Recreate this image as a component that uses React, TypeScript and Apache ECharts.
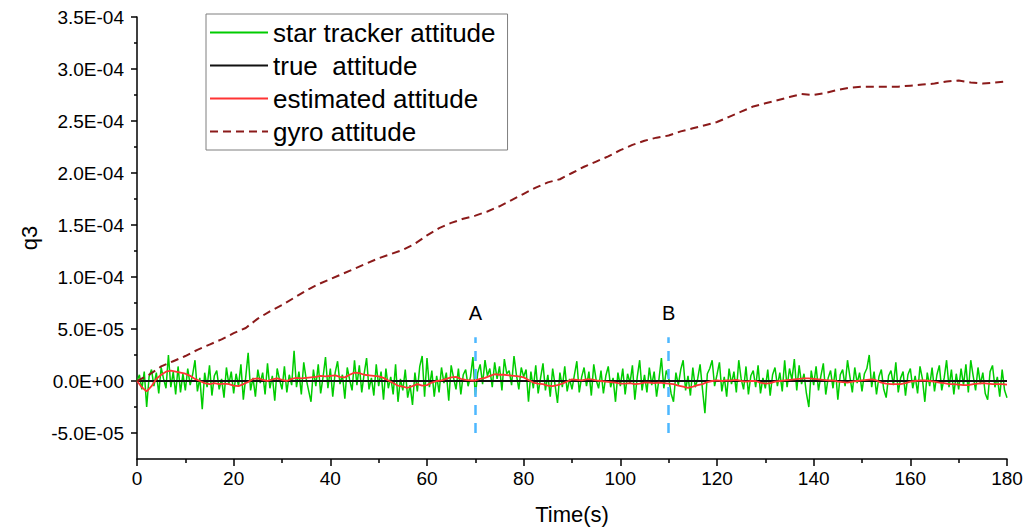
import React, { useEffect, useRef } from "react";
import * as echarts from "echarts";

// values in units of 1e-5
const SCALE = 1e-5;

// star tracker attitude, sampled every 0.5 s from t = 0 to 180 s
const STAR_STEP = 0.5;
const starTracker = [
  0, 0.6, -0.8, 0.9, -2.5, 0.4, 1.1, -0.5, 0.8, -1.2, 1.3, 0.2, -0.7, 2.5, -0.6, 0.9, -1.3, 1.4, -1.1, 0.7,
  -0.9, 1.2, -0.4, 0.6, 2.0, -1.0, 0.3, -2.7, 0.8, -0.6, 1.5, -1.4, 0.5, 1.0, -0.8, 0.2, -1.6, 1.3, -0.3, 0.9,
  -1.2, 0.7, -0.5, 1.6, -1.8, 0.4, 2.7, -0.9, 0.3, -1.5, 1.1, -0.2, 0.8, -1.3, 1.7, -0.7, 0.5, -1.9, 1.2, 0.1,
  -0.8, 1.4, -1.1, 0.6, -0.4, 2.9, -0.6, 0.9, -1.3, 1.8, 0.2, -0.9, -2.0, 1.1, -0.5, 1.6, -1.2, 0.4, 2.3, -0.7,
  1.2, -1.5, 0.8, 1.9, -0.3, 0.6, -1.7, 1.3, 0.1, -0.9, 2.0, -0.4, 1.5, -1.1, 0.7, 2.2, -0.8, 0.3, -1.4, 1.6,
  -0.5, 0.9, -1.8, 1.2, -0.7, 0.4, -1.3, 1.6, -2.0, 0.2, -0.9, 1.1, -1.6, -0.4, -2.3, 0.8, -1.0, 1.4, 2.4, -1.5,
  2.2, -0.6, 1.0, -1.5, 0.5, -1.1, 1.3, -0.2, 0.8, -1.9, 1.5, 0.3, -0.8, 1.2, -1.3, 0.6, 1.1, -0.5, 0.4, 2.3,
  -1.4, 0.8, 1.6, -0.3, 2.0, 0.5, 1.2, -0.6, 1.8, 0.2, 1.4, -0.9, 2.1, 0.7, 1.0, -0.4, 2.4, 0.6, -0.8, 1.3,
  0.4, 1.1, -2.0, 0.9, -0.7, 1.5, -1.2, 0.3, 1.7, -0.9, 0.6, -1.5, 1.2, -0.4, -2.1, 0.8, -0.6, 1.4, -1.0, 0.2,
  -0.8, 0.6, 1.9, -1.1, 0.4, 1.3, -0.5, 0.9, -1.4, 1.6, 0.1, -0.7, 1.0, -1.2, 0.5, 1.4, -0.6, 0.3, -2.0, 0.8,
  -0.5, 1.2, -1.3, 0.7, -0.2, 1.5, -1.8, 0.4, 2.0, -0.9, 0.6, -1.1, 1.3, -0.4, 0.9, -1.5, 0.2, 2.2, -0.7, 1.0,
  0.3, -1.2, -2.0, 0.8, -0.4, 1.1, 2.0, -0.9, 0.5, -1.4, 1.3, -0.6, 0.2, 1.6, -0.8, -3.1, 0.7, 1.2, 2.0, -0.5,
  0.6, 1.8, -1.0, 0.4, -1.5, 1.2, -0.3, 0.9, -1.1, 2.0, 0.2, -0.8, 1.4, -1.3, 0.5, 1.0, -0.6, 1.5, -1.2, 0.3,
  -0.7, 1.1, -1.4, 0.6, 1.3, -0.5, 0.8, -1.0, 2.0, -0.6, 1.2, 0.1, 2.1, -0.9, 1.5, -0.3, 0.7, -1.2, -2.5, 1.0,
  -0.4, 1.4, -0.9, 0.5, 1.7, -1.3, 0.3, 1.0, -0.7, 1.2, -1.8, 0.6, 1.1, -0.5, 2.0, 0.4, -1.1, 1.3, -0.2, 0.8,
  -1.0, 0.7, 1.2, 2.5, -0.6, 0.9, -1.3, 0.4, 1.1, -0.8, -1.6, 0.5, 1.0, -0.4, 1.8, -1.1, 0.3, 0.9, -1.4, 0.6,
  1.2, -0.7, 0.5, -1.2, 1.4, 0.2, -2.0, 0.8, -0.5, 1.3, -1.0, 0.6, 1.5, -0.9, 0.3, 2.0, -0.6, 1.1, -1.3, 0.7,
  -0.8, 1.2, -0.4, 1.6, -1.1, 2.0, 0.5, -0.9, 1.3, -0.3, 0.8, -1.2, -1.8, 0.9, 1.5, -0.6, 0.4, -1.5, 1.1, -0.9,
  -1.6,
];

// estimated attitude, sampled every 1 s
const EST_STEP = 1;
const estimated = [
  0, -0.6, -1.0, -0.5, 0.2, 0.6, 0.9, 1.0, 0.9, 0.8,
  0.7, 0.5, 0.2, 0, -0.2, -0.3, -0.2, -0.3, -0.25, -0.3,
  -0.45, -0.5, -0.3, -0.1, 0.2, 0.25, 0.1, 0, 0.15, 0.25,
  0.1, 0, 0.2, 0.3, 0.25, 0.3, 0.35, 0.4, 0.5, 0.45,
  0.5, 0.55, 0.4, 0.35, 0.6, 0.8, 0.75, 0.6, 0.55, 0.5,
  0.45, 0.3, 0.05, -0.2, -0.45, -0.55, -0.65, -0.5, -0.3, -0.45,
  -0.4, -0.15, 0, 0.05, 0.2, 0.35, 0.4, 0.2, 0.1, 0.05,
  0.05, 0.2, 0.3, 0.5, 0.65, 0.6, 0.6, 0.55, 0.5, 0.45,
  0.35, 0.1, -0.15, -0.25, -0.3, -0.45, -0.5, -0.4, -0.25, -0.05,
  0.15, 0.1, 0.05, 0.15, 0.15, 0.05, 0, -0.05, -0.1, -0.15,
  -0.25, -0.25, -0.2, -0.3, -0.25, -0.15, -0.15, -0.2, -0.15, -0.2,
  -0.25, -0.3, -0.45, -0.55, -0.65, -0.55, -0.4, -0.3, -0.1, 0,
  0.05, 0, 0.05, 0.05, 0.1, 0, -0.05, 0, 0, -0.15,
  -0.25, -0.2, -0.05, 0, 0.05, 0.1, 0.15, 0.2, 0.25, 0.25,
  0.2, 0.15, 0.1, 0.05, 0.05, -0.05, -0.1, -0.15, -0.05, 0,
  0.05, 0.1, 0.15, 0.05, -0.15, -0.25, -0.3, -0.3, -0.3, -0.2,
  -0.05, 0, 0.05, 0.05, 0, -0.05, -0.15, -0.2, -0.3, -0.3,
  -0.35, -0.4, -0.4, -0.3, -0.25, -0.2, -0.25, -0.3, -0.3, -0.3,
  -0.35,
];

// gyro attitude
const gyroTime = [
  0, 2.5, 5, 7.5, 10, 12.5, 15, 17.5, 20, 22.5, 25, 27.5, 30, 32.5, 35, 37.5, 40, 42.5, 45, 47.5,
  50, 52.5, 55, 57.5, 60, 62.5, 65, 67.5, 70, 72.5, 75, 77.5, 80, 82.5, 85, 87.5, 90, 92.5, 95, 97.5,
  100, 102.5, 105, 107.5, 110, 112.5, 115, 117.5, 120, 122.5, 125, 127.5, 130, 132.5, 135, 137.5, 140,
  142.5, 145, 147.5, 150, 152.5, 155, 157.5, 160, 162.5, 165, 167.5, 170, 172.5, 175, 177.5, 180,
];
const gyroValue = [
  0, 0.6, 1.4, 1.9, 2.4, 3.0, 3.5, 4.0, 4.6, 5.1, 6.0, 6.7, 7.3, 8.0, 8.7, 9.3, 9.8, 10.3, 10.8, 11.3,
  11.8, 12.2, 12.6, 13.2, 14.0, 14.7, 15.2, 15.6, 15.9, 16.3, 16.8, 17.4, 18.0, 18.6, 19.1, 19.4, 20.0, 20.6, 21.1, 21.6,
  22.2, 22.7, 23.1, 23.4, 23.6, 24.0, 24.3, 24.6, 24.9, 25.4, 25.9, 26.4, 26.7, 27.0, 27.3, 27.6, 27.5,
  27.7, 28.0, 28.2, 28.3, 28.3, 28.3, 28.3, 28.4, 28.5, 28.6, 28.8, 28.9, 28.7, 28.6, 28.7, 28.8,
];

// true attitude
const trueTime = [0, 180];
const trueValue = [0, 0];

// markers A and B
const markerTimes = [70, 110];
const markerLabels = ["A", "B"];
const markerRange = [-5, 4.2];

// axis ticks (units 1e-5)
const yMajorTicks = [-5, 0, 5, 10, 15, 20, 25, 30, 35];
const yMinorTicks = [-2.5, 2.5, 7.5, 12.5, 17.5, 22.5, 27.5, 32.5];
const xTicks = [0, 20, 40, 60, 80, 100, 120, 140, 160, 180];

const FONT = "'Liberation Sans', Arial, sans-serif";

function fmtSci(v: number): string {
  const s = v.toExponential(1);
  const [m, e] = s.split("e");
  const sign = e[0];
  const d = e.slice(1).padStart(2, "0");
  return m + "E" + sign + d;
}

export default function App() {
  const ref = useRef<HTMLDivElement>(null);

  useEffect(() => {
    if (!ref.current) return;
    const chart = echarts.init(ref.current, null, { renderer: "svg" });
    const black = "#000";
    const option: any = {
      animation: false,
      backgroundColor: "#fff",
      textStyle: { fontFamily: FONT },
      grid: { left: 137, right: 20, top: 17, bottom: 73, containLabel: false },
      legend: {
        data: ["star tracker attitude", "true  attitude", "estimated attitude", "gyro attitude"],
        orient: "vertical",
        left: 206,
        top: 14,
        padding: [5, 12, 5, 3],
        itemGap: 6,
        itemWidth: 58,
        itemHeight: 14,
        itemStyle: { opacity: 0 },
        backgroundColor: "#fff",
        borderColor: "#7f7f7f",
        borderWidth: 1,
        textStyle: { fontSize: 26, lineHeight: 27, color: black, fontFamily: FONT },
      },
      xAxis: {
        type: "value",
        min: xTicks[0],
        max: xTicks[xTicks.length - 1],
        interval: 20,
        name: "Time(s)",
        nameLocation: "middle",
        nameGap: 44,
        nameTextStyle: { fontSize: 22, color: black, fontFamily: FONT },
        axisLine: { onZero: false, lineStyle: { color: black, width: 1.5 } },
        axisTick: { length: 7, lineStyle: { color: black, width: 1.5 } },
        minorTick: { show: true, splitNumber: 2, length: 4, lineStyle: { color: black, width: 1.5 } },
        axisLabel: { fontSize: 19, color: black, margin: 10, fontFamily: FONT },
        splitLine: { show: false },
        minorSplitLine: { show: false },
      },
      yAxis: [
        {
          type: "value",
          min: -7.5 * SCALE,
          max: 35 * SCALE,
          name: "q3",
          nameLocation: "middle",
          nameGap: 95,
          nameTextStyle: { fontSize: 22, color: black, fontFamily: FONT },
          axisLine: { show: true, onZero: false, lineStyle: { color: black, width: 1.5 } },
          axisTick: {
            show: true,
            length: 6,
            customValues: yMajorTicks.map((v) => v * SCALE),
            lineStyle: { color: black, width: 1.5 },
          },
          axisLabel: {
            customValues: yMajorTicks.map((v) => v * SCALE),
            formatter: (v: number) => fmtSci(v),
            fontSize: 19,
            color: black,
            margin: 13,
            fontFamily: FONT,
          },
          splitLine: { show: false },
        },
        {
          type: "value",
          position: "left",
          min: -7.5 * SCALE,
          max: 35 * SCALE,
          axisLine: { show: false },
          axisTick: {
            show: true,
            length: 3,
            customValues: yMinorTicks.map((v) => v * SCALE),
            lineStyle: { color: black, width: 1.5 },
          },
          axisLabel: { show: false },
          splitLine: { show: false },
        },
      ],
      series: [
        {
          name: "star tracker attitude",
          type: "line",
          symbol: "none",
          data: starTracker.map((v, i) => [i * STAR_STEP, v * SCALE]),
          lineStyle: { color: "#00cc00", width: 1.5 },
          itemStyle: { color: "#00cc00" },
        },
        {
          name: "true  attitude",
          type: "line",
          symbol: "none",
          data: trueTime.map((t, i) => [t, trueValue[i] * SCALE]),
          lineStyle: { color: "#111", width: 1.8 },
          itemStyle: { color: "#111" },
          markLine: {
            silent: true,
            symbol: "none",
            lineStyle: { color: "#4db8ff", width: 2.5, type: [10, 8] },
            label: {
              show: true,
              position: "end",
              formatter: "{b}",
              fontSize: 20,
              color: black,
              distance: 14,
              fontFamily: FONT,
            },
            data: markerTimes.map((t, i) => [
              { coord: [t, markerRange[0] * SCALE], name: markerLabels[i] },
              { coord: [t, markerRange[1] * SCALE] },
            ]),
          },
        },
        {
          name: "estimated attitude",
          type: "line",
          symbol: "none",
          data: estimated.map((v, i) => [i * EST_STEP, v * SCALE]),
          lineStyle: { color: "#ff3333", width: 1.8 },
          itemStyle: { color: "#ff3333" },
        },
        {
          name: "gyro attitude",
          type: "line",
          symbol: "none",
          data: gyroTime.map((t, i) => [t, gyroValue[i] * SCALE]),
          lineStyle: { color: "#8b1a1a", width: 2, type: [8, 5] },
          itemStyle: { color: "#8b1a1a" },
        },
      ],
    };
    chart.setOption(option);
    return () => chart.dispose();
  }, []);

  return (
    <div
      ref={ref}
      style={{ position: "fixed", left: 0, top: 0, width: 1027, height: 532, background: "#fff" }}
    />
  );
}
